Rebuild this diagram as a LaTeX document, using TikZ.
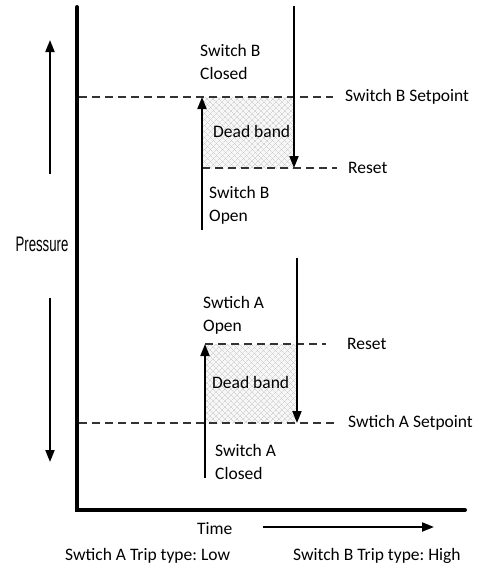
\documentclass[tikz,border=0pt]{standalone}
\usepackage{fontspec}
\setmainfont{Carlito}
\newfontfamily\axisfont{Liberation Sans}
\usepackage{tikz}
\usetikzlibrary{arrows.meta,positioning,patterns.meta}
\definecolor{bandgray}{HTML}{C4C4C4}
\frenchspacing
\tikzset{
  axisline/.style={line width=4pt, line cap=round},
  presarrow/.style={-{Triangle[length=12pt,width=9pt]}, line width=2pt},
  setline/.style={line width=1.3pt, dash pattern=on 8pt off 5pt, draw=black!80},
  deadband/.style={fill=black!3,
    postaction={pattern={Lines[angle=45,distance=4pt,line width=0.45pt]}, pattern color=bandgray},
    postaction={pattern={Lines[angle=-45,distance=4pt,line width=0.45pt]}, pattern color=bandgray}},
  lbl/.style={anchor=west, inner sep=0pt, align=left, font=\fontsize{17.5}{23}\selectfont}
}
\begin{document}
\begin{tikzpicture}[x=1pt,y=-1pt]
\useasboundingbox (0,0) rectangle (482,574);
% dead bands
\fill[deadband] (202,97) rectangle (294,168);
\fill[deadband] (205,344) rectangle (297,423);
% setpoint and reset lines
\coordinate (bset0) at (79,97);   \coordinate (bset1) at (333,97);
\coordinate (brst0) at (202,168); \coordinate (brst1) at (337,168);
\coordinate (arst0) at (205,344); \coordinate (arst1) at (326,344);
\coordinate (aset0) at (79,423);  \coordinate (aset1) at (335,423);
\draw[setline] (bset0) -- (bset1);
\draw[setline] (brst0) -- (brst1);
\draw[setline] (arst0) -- (arst1);
\draw[setline] (aset0) -- (aset1);
% axes
\coordinate (origin) at (77,510);
\coordinate (ytop) at (77,7);
\coordinate (xend) at (465,510);
\draw[axisline] (ytop) -- (origin) -- (xend);
% pressure arrows
\coordinate (pup0) at (50,174);   \coordinate (pup1) at (50,40);
\coordinate (pdn0) at (50,298);   \coordinate (pdn1) at (50,462);
\draw[presarrow] (pup0) -- (pup1);
\draw[presarrow] (pdn0) -- (pdn1);
\node[font=\axisfont\fontsize{21}{24}\selectfont, inner sep=0pt] (pres) at (42,244) {\scalebox{0.63}[1]{Pressure}};
% switch B arrows
\coordinate (bup0) at (202,230);  \coordinate (bdn0) at (294,6);
\draw[presarrow] (bup0) -- (bset0 -| bup0);
\draw[presarrow] (bdn0) -- (brst0 -| bdn0);
% switch A arrows
\coordinate (aup0) at (205,478);  \coordinate (adn0) at (297,258);
\draw[presarrow] (aup0) -- (arst0 -| aup0);
\draw[presarrow] (adn0) -- (aset0 -| adn0);
% labels
\node[lbl] (bclosed) at (200,62) {Switch B\\Closed};
\node[lbl] (bopen) at (209,205) {Switch B\\Open};
\node[lbl] (bband) at (213,131) {Dead band};
\node[lbl] (bsetl) at (345,97) {Switch B Setpoint};
\node[lbl] (brstl) at (348,168) {Reset};
\node[lbl] (aopen) at (203,315) {Swtich A\\Open};
\node[lbl] (aclosed) at (215,462) {Switch A\\Closed};
\node[lbl] (aband) at (212,382) {Dead band};
\node[lbl] (arstl) at (347,344) {Reset};
\node[lbl] (asetl) at (348,423) {Swtich A Setpoint};
% time axis
\node[lbl] (time) at (197,529) {Time};
\coordinate (t0) at (263,527); \coordinate (t1) at (434,527);
\draw[presarrow] (t0) -- (t1);
\node[lbl] (atrip) at (65,556) {Swtich A Trip type: Low};
\node[lbl] (btrip) at (293,556) {Switch B Trip type: High};
\end{tikzpicture}
\end{document}
